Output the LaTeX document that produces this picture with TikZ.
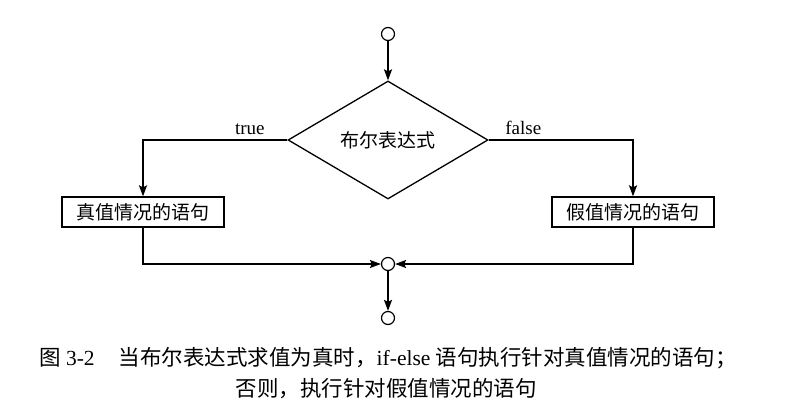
\documentclass[tikz,border=0pt]{standalone}
\usepackage{fontspec}
\setmainfont{Liberation Serif}
\newfontfamily\cjk{Noto Sans CJK SC}
\usetikzlibrary{shapes.geometric,arrows.meta}

\tikzset{
  flow/.style = {-{Stealth[length=11pt, width=8pt, inset=2pt]}},
  stmt/.style = {draw, line width=1.3pt, minimum width=162pt, minimum height=30pt,
                 inner sep=0pt, font=\cjk\fontsize{19}{19}\selectfont},
  cond/.style = {draw, diamond, line width=1.3pt, minimum width=200pt, minimum height=118pt,
                 inner sep=0pt, font=\cjk\fontsize{19}{19}\selectfont},
  dot/.style  = {draw, circle, line width=1.2pt, minimum size=13pt, inner sep=0pt, fill=white},
  lbl/.style  = {font=\fontsize{19}{19}\selectfont, inner sep=1pt},
  capt/.style = {font=\fontsize{21.5}{21.5}\selectfont, inner sep=0pt}
}

\begin{document}
\begin{tikzpicture}[x=1pt, y=-1pt, line width=1.7pt]
\useasboundingbox (0,0) rectangle (786,417);
% Nodes
\node[dot] (start) at (388,34) {};
\node[cond] (cond) at (388,140) {布尔表达式};
\node[stmt] (yes) at (143,212) {真值情况的语句};
\node[stmt] (no) at (633,212) {假值情况的语句};
\node[dot] (join) at (388,264) {};
\node[dot] (end) at (388,318) {};
% Branches
\draw[flow] (start) -- (cond);
\draw[flow] (cond.west) -| (yes) node[lbl, pos=0.13, above=3pt] (t) {true};
\draw[flow] (cond.east) -| (no) node[lbl, pos=0.12, above=3pt] (f) {false};
% Merge
\draw[flow] (yes) |- (join);
\draw[flow] (no) |- (join);
\draw[flow] (join) -- (end);
% Caption
\node[capt] (cap1) at (388,358) {{\cjk 图} 3-2\hspace{24pt}{\cjk 当布尔表达式求值为真时，}if-else {\cjk 语句执行针对真值情况的语句；}};
\node[capt] (cap2) at (386,389) {\cjk 否则，执行针对假值情况的语句};
\end{tikzpicture}
\end{document}
